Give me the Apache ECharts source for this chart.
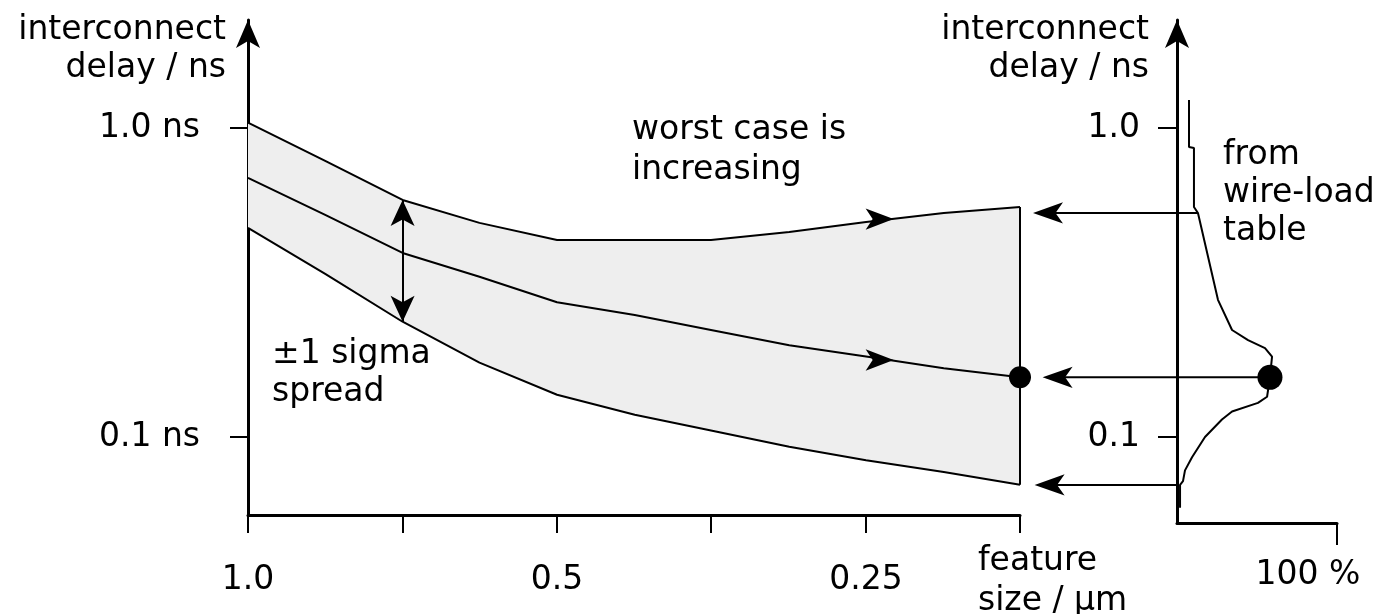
<!DOCTYPE html>
<html>
<head>
<meta charset="utf-8">
<script src="https://cdn.jsdelivr.net/npm/echarts@6/dist/echarts.min.js"></script>
<style>
  html, body { margin: 0; padding: 0; background: #fff; }
  #chart { width: 1377px; height: 614px; }
</style>
</head>
<body>
<div id="chart"></div>
<script>
// feature size (um) along the x axis, log spaced, read at half-tick steps
const featureSize = [1.0, 0.841, 0.707, 0.595, 0.5, 0.42, 0.354, 0.297, 0.25, 0.21, 0.177];
// interconnect delay (ns)
const worstCase  = [1.04, 0.782, 0.585, 0.493, 0.434, 0.434, 0.434, 0.461, 0.496, 0.531, 0.555];
const average    = [0.689, 0.523, 0.394, 0.33, 0.273, 0.248, 0.222, 0.198, 0.182, 0.167, 0.156];
const lowerSigma = [0.475, 0.337, 0.236, 0.174, 0.137, 0.118, 0.105, 0.093, 0.084, 0.077, 0.070];

const featureTicks  = [1.0, 0.707, 0.5, 0.354, 0.25, 0.177];
const featureLabels = [1.0, 0.5, 0.25];
const delayTicks    = [0.1, 1.0];

// wire-load table distribution (right panel): % vs delay
const wireLoadPct   = [7.5, 7.5, 10.6, 10.6, 13.1, 25.6, 34.4, 44.4, 55, 59.4, 58.1, 56.3, 50.6, 34.4, 28.1, 17.5, 9.4, 5, 3.75, 1.9, 1.9];
const wireLoadDelay = [1.232, 0.868, 0.862, 0.555, 0.531, 0.278, 0.222, 0.206, 0.194, 0.182, 0.156, 0.135, 0.129, 0.121, 0.114, 0.1, 0.086, 0.078, 0.072, 0.070, 0.059];
const peakIndex = 10;

// arrow heads drawn on the curves (tip position)
const curveArrowSize  = 0.235;
const curveArrowDelay = [0.507, 0.1775];

// connectors from the right panel back to the left one (x in right panel %)
const connectorFrom = [[13.1, 0.531], [58.1, 0.156], [0, 0.070]];
const connectorTip  = [-90, -84, -89];

const black = '#000';
const font = 'DejaVu Sans';
const fs = 33;
const cssFont = fs + 'px "' + font + '"';

function fmt(v) {
  const s = String(+(+v).toPrecision(2));
  return s.indexOf('.') >= 0 ? s : s + '.0';
}

function pairs(xs, ys) {
  return xs.map((x, i) => [x, ys[i]]);
}

function curve(name, data) {
  return {
    type: 'line', name: name, xAxisIndex: 0, yAxisIndex: 0,
    data: data, symbol: 'none', silent: true, z: 4,
    lineStyle: { color: black, width: 2 }
  };
}

const axisText = { color: black, fontFamily: font, fontSize: fs };

const chart = echarts.init(document.getElementById('chart'));
chart.setOption({
  backgroundColor: '#fff',
  animation: false,
  grid: [
    { left: 248, top: 20, width: 772, height: 495, outerBoundsMode: 'none', containLabel: false },
    { left: 1177, top: 20, width: 160, height: 503, outerBoundsMode: 'none', containLabel: false }
  ],
  xAxis: [
    {
      type: 'log', gridIndex: 0, inverse: true, min: 0.177, max: 1.0,
      axisLine: { onZero: false, lineStyle: { color: black, width: 3 } },
      axisTick: { customValues: featureTicks, length: 18, lineStyle: { color: black, width: 2 } },
      axisLabel: { customValues: featureLabels, formatter: fmt, margin: 49, ...axisText },
      splitLine: { show: false },
      name: 'feature\nsize / µm', nameLocation: 'start', nameGap: -42,
      nameTextStyle: { ...axisText, align: 'left', verticalAlign: 'top', lineHeight: 40, padding: [26, 0, 0, 0] }
    },
    {
      type: 'value', gridIndex: 1, min: 0, max: 100,
      axisLine: { onZero: false, lineStyle: { color: black, width: 3 } },
      axisTick: { customValues: [100], length: 22, lineStyle: { color: black, width: 2 } },
      axisLabel: { customValues: [100], formatter: '{value} %', margin: 36, padding: [0, 58, 0, 0], ...axisText },
      splitLine: { show: false }
    }
  ],
  yAxis: [
    {
      type: 'log', gridIndex: 0, min: 0.0559, max: 2.236,
      axisLine: { show: true, symbol: ['none', 'arrow'], symbolSize: [18, 28], lineStyle: { color: black, width: 3 } },
      axisTick: { customValues: delayTicks, length: 18, lineStyle: { color: black, width: 2 } },
      axisLabel: { customValues: delayTicks, formatter: v => fmt(v) + ' ns', margin: 48, ...axisText },
      splitLine: { show: false },
      name: 'interconnect\ndelay / ns', nameLocation: 'end', nameGap: 9,
      nameTextStyle: { ...axisText, align: 'right', verticalAlign: 'top', lineHeight: 38, padding: [0, 22, 0, 0] }
    },
    {
      type: 'log', gridIndex: 1, min: 0.0527, max: 2.236,
      axisLine: { show: true, symbol: ['none', 'arrow'], symbolSize: [18, 28], lineStyle: { color: black, width: 3 } },
      axisTick: { customValues: delayTicks, length: 19, lineStyle: { color: black, width: 2 } },
      axisLabel: { customValues: delayTicks, formatter: fmt, margin: 37, ...axisText },
      splitLine: { show: false },
      name: 'interconnect\ndelay / ns', nameLocation: 'end', nameGap: 9,
      nameTextStyle: { ...axisText, align: 'right', verticalAlign: 'top', lineHeight: 38, padding: [0, 28, 0, 0] }
    }
  ],
  graphic: [
    { type: 'text', left: 632, top: 110, style: { text: 'worst case is\nincreasing', font: cssFont, fill: black, lineHeight: 40 } },
    { type: 'text', left: 762, top: 253, style: { text: 'average is\ndecreasing', font: cssFont, fill: black, lineHeight: 40 } },
    { type: 'text', left: 272, top: 335, style: { text: '±1 sigma\nspread', font: cssFont, fill: black, lineHeight: 38 } },
    { type: 'text', left: 1223, top: 136, style: { text: 'from\nwire-load\ntable', font: cssFont, fill: black, lineHeight: 38 } }
  ],
  series: [
    {
      // shaded +-1 sigma band between worst case and lower curve
      type: 'custom', xAxisIndex: 0, yAxisIndex: 0, data: [0], silent: true, z: 1,
      renderItem: function (params, api) {
        const top = featureSize.map((x, i) => api.coord([x, worstCase[i]]));
        const bottom = featureSize.map((x, i) => api.coord([x, lowerSigma[i]])).reverse();
        return { type: 'polygon', shape: { points: top.concat(bottom) }, style: { fill: '#eeeeee' } };
      }
    },
    Object.assign(curve('worst case', pairs(featureSize, worstCase)), {
      markLine: {
        silent: true, symbol: ['arrow', 'arrow'], symbolSize: [18, 26],
        lineStyle: { color: black, width: 2, type: 'solid' }, label: { show: false },
        data: [[{ coord: [featureSize[2], worstCase[2]] }, { coord: [featureSize[2], lowerSigma[2]] }]]
      }
    }),
    curve('average', pairs(featureSize, average)),
    curve('lower', pairs(featureSize, lowerSigma)),
    curve('edge', [[featureSize[10], worstCase[10]], [featureSize[10], lowerSigma[10]]]),
    {
      type: 'scatter', xAxisIndex: 0, yAxisIndex: 0, silent: true, z: 5,
      symbol: 'arrow', symbolSize: [16, 28], symbolRotate: -90,
      itemStyle: { color: black, opacity: 1 },
      data: curveArrowDelay.map(d => [curveArrowSize, d])
    },
    {
      type: 'scatter', xAxisIndex: 0, yAxisIndex: 0, silent: true, z: 5,
      symbol: 'circle', symbolSize: 22, itemStyle: { color: black, opacity: 1 },
      data: [[featureSize[10], average[10]]]
    },
    {
      type: 'line', xAxisIndex: 1, yAxisIndex: 1, silent: true, z: 4,
      data: pairs(wireLoadPct, wireLoadDelay), symbol: 'none',
      lineStyle: { color: black, width: 2 }
    },
    {
      type: 'scatter', xAxisIndex: 1, yAxisIndex: 1, silent: true, z: 5,
      symbol: 'circle', symbolSize: 25, itemStyle: { color: black, opacity: 1 },
      data: [[wireLoadPct[peakIndex], wireLoadDelay[peakIndex]]]
    },
    {
      // connector shafts, running out of the right panel to the left
      type: 'custom', xAxisIndex: 1, yAxisIndex: 1, silent: true, z: 4, clip: false,
      data: connectorFrom.map((p, i) => [connectorTip[i], p[1], p[0]]),
      renderItem: function (params, api) {
        const a = api.coord([api.value(0), api.value(1)]);
        const b = api.coord([api.value(2), api.value(1)]);
        return { type: 'line', shape: { x1: a[0] + 4, y1: a[1], x2: b[0], y2: b[1] }, style: { stroke: black, lineWidth: 2 } };
      }
    }
  ].concat(connectorFrom.map((p, i) => ({
    type: 'line', xAxisIndex: 1, yAxisIndex: 1, silent: true, clip: false, z: 5,
    lineStyle: { color: black, width: 0 }, itemStyle: { color: black, opacity: 1 },
    showSymbol: true,
    data: [
      { value: [connectorTip[i], p[1]], symbol: 'arrow', symbolRotate: 90, symbolSize: [16, 30] },
      { value: p, symbol: 'none' }
    ]
  })))
});
</script>
</body>
</html>
